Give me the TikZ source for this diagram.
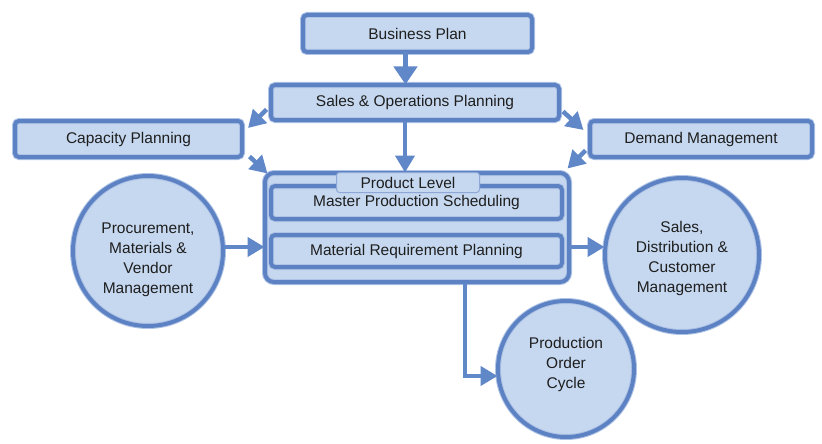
\documentclass[tikz,border=0pt]{standalone}
\usepackage{fontspec}
\setmainfont{Liberation Sans}
\usetikzlibrary{arrows.meta,calc}
\definecolor{fillc}{HTML}{C6D8F0}
\definecolor{bordc}{HTML}{5D82C4}
\definecolor{innc}{HTML}{AFC4E6}
\definecolor{arrc}{HTML}{6088C8}
\definecolor{txtc}{HTML}{1E1E1E}
\newcommand{\ctext}[2]{\raisebox{#1}[\height][\depth]{\begin{tabular}{@{}c@{}}#2\end{tabular}}}
\begin{document}
\begin{tikzpicture}[x=1pt,y=-1pt,
  frame/.style={draw=innc, double=bordc, double distance=4pt, line width=1pt, fill=fillc},
  blk/.style={frame, rectangle, rounded corners=4pt, inner sep=0pt, text=txtc, font=\fontsize{15.5}{18}\selectfont},
  circ/.style={frame, circle, inner sep=0pt, text=txtc, font=\fontsize{15.5}{20}\selectfont},
  arr/.style={draw=arrc, line width=4.5pt, -{Triangle[width=19pt,length=17pt]}},
]
\useasboundingbox[fill=white] (0,0) rectangle (822,444);

\node[blk, minimum width=229, minimum height=37] (bp) at (417.5,33.5) {Business Plan};
\node[blk, minimum width=288, minimum height=35] (sop) at (415,102.5) {Sales \& Operations Planning};
\node[blk, minimum width=227, minimum height=36] (cap) at (128.5,139) {Capacity Planning};
\node[blk, minimum width=222, minimum height=36] (dem) at (701,139) {Demand Management};

\node[frame, rectangle, rounded corners=9pt, minimum width=304, minimum height=109] (outer) at (417,227.5) {};
\node[blk, minimum width=291, minimum height=33] (mps) at (416.5,202.5) {\raisebox{-2pt}{Master Production Scheduling}};
\node[blk, minimum width=291, minimum height=32] (mrp) at (416.5,251) {Material Requirement Planning};
\node[draw=bordc!70, line width=1pt, fill=fillc, rounded corners=3pt, minimum width=143, minimum height=20, inner sep=0pt, text=txtc, font=\fontsize{15.5}{18}\selectfont] (tab) at (408,182.5) {Product Level};

\node[circ, minimum size=150] (proc) at (148,251) {\ctext{-8pt}{Procurement,\\Materials \&\\Vendor\\Management}};
\node[circ, minimum size=154] (sales) at (682,255) {\ctext{-3pt}{Sales,\\Distribution \&\\Customer\\Management}};
\node[circ, minimum size=136] (prod) at (566,369) {\ctext{5pt}{Production\\Order\\Cycle}};

\coordinate (bpo) at ($(bp.south)+(-12,0)$);
\coordinate (sopo) at ($(sop.south)+(-10,0)$);
\coordinate (mrpo) at ($(outer.south)+(48,0)$);
\draw[arr, -{Triangle[width=23pt,length=18pt]}] (bpo) -- (bpo |- sop.north);
\draw[arr] (sopo) -- (sopo |- outer.north);
\draw[arr] ($(sop.west)+(-4,7)$) -- ($(cap.north east)+(5.5,7.5)$);
\draw[arr] ($(cap.south east)+(7,-1)$) -- ($(outer.north west)+(3,1)$);
\draw[arr] ($(sop.east)+(3.5,9)$) -- ($(dem.north west)+(-6,9.5)$);
\draw[arr] ($(dem.south west)+(-4,-7)$) -- ($(outer.north east)+(-2,-4)$);
\draw[arr] ([yshift=4pt]proc.east) -- ([yshift=4pt]proc.east -| outer.west);
\draw[arr] ([yshift=8pt]sales.west -| outer.east) -- ([yshift=8pt]sales.west);
\draw[arr] (mrpo) |- ([yshift=-7pt]prod.west);
\end{tikzpicture}
\end{document}
